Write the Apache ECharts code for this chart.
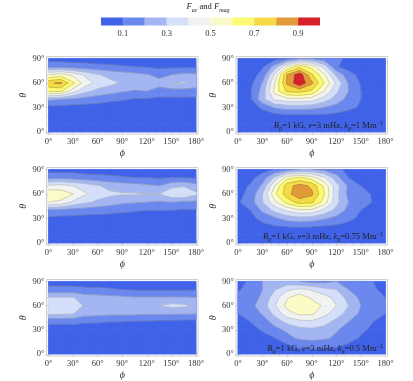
<!DOCTYPE html>
<html>
<head>
<meta charset="utf-8">
<style>
html, body { margin: 0; padding: 0; background: #fff; }
#chart { width: 413px; height: 381px; }
</style>
<script src="https://cdn.jsdelivr.net/npm/echarts@6/dist/echarts.min.js"></script>
</head>
<body>
<div id="chart"></div>
<script>
var phiVals = [0, 15, 30, 45, 60, 75, 90, 105, 120, 135, 150, 165, 180];
var thetaVals = [0, 10, 20, 30, 40, 50, 60, 70, 80, 90];
var levels = [0, 0.1, 0.2, 0.3, 0.4, 0.5, 0.6, 0.7, 0.8, 0.9];
var levelColors = ['#3f62e8', '#6a88ee', '#a3b6f2', '#d4dffa', '#f1f3f3', '#fbfbc8', '#fdf972', '#f4da44', '#e29a38', '#d4232b'];
var barTicks = [0.1, 0.3, 0.5, 0.7, 0.9];
var angleTicksX = [0, 30, 60, 90, 120, 150, 180];
var angleTicksY = [0, 30, 60, 90];
var minorTicksX = [10, 20, 40, 50, 70, 80, 100, 110, 130, 140, 160, 170];
var minorTicksY = [10, 20, 40, 50, 70, 80];

// rows go from theta = 0 up to theta = 90
var acK1 = [
    [.03, .03, .03, .03, .03, .03, .03, .03, .03, .03, .03, .03, .03],
    [.03, .03, .03, .03, .03, .03, .03, .03, .03, .03, .03, .03, .03],
    [.04, .04, .04, .04, .04, .04, .04, .04, .04, .03, .03, .03, .03],
    [.07, .07, .06, .06, .06, .05, .05, .05, .05, .04, .04, .04, .04],
    [.22, .20, .18, .16, .14, .12, .11, .09, .09, .08, .08, .08, .08],
    [.62, .62, .44, .33, .27, .24, .21, .19, .20, .15, .16, .16, .15],
    [.78, .82, .62, .45, .37, .33, .29, .28, .27, .25, .30, .31, .27],
    [.50, .55, .47, .38, .31, .27, .25, .23, .21, .16, .20, .23, .22],
    [.16, .16, .15, .14, .13, .12, .11, .10, .09, .08, .08, .08, .08],
    [.06, .06, .05, .05, .04, .04, .04, .04, .04, .04, .04, .04, .04]
];
var acK075 = [
    [.03, .03, .03, .03, .03, .03, .03, .03, .03, .03, .03, .03, .03],
    [.03, .03, .03, .03, .03, .03, .03, .03, .03, .03, .03, .03, .03],
    [.04, .04, .04, .04, .04, .04, .04, .04, .04, .03, .03, .03, .03],
    [.08, .07, .07, .06, .06, .06, .05, .05, .05, .05, .05, .04, .04],
    [.18, .17, .16, .15, .14, .13, .12, .11, .10, .10, .10, .09, .09],
    [.50, .48, .38, .32, .28, .25, .22, .21, .20, .19, .20, .18, .18],
    [.58, .56, .50, .41, .35, .32, .31, .31, .30, .30, .38, .40, .32],
    [.42, .44, .40, .36, .31, .27, .25, .24, .22, .20, .27, .29, .24],
    [.17, .17, .16, .14, .13, .12, .11, .10, .10, .09, .10, .10, .09],
    [.06, .06, .06, .05, .05, .05, .05, .05, .05, .04, .04, .04, .04]
];
var acK05 = [
    [.03, .03, .03, .03, .03, .03, .03, .03, .03, .03, .03, .03, .03],
    [.03, .03, .03, .03, .03, .03, .03, .03, .03, .03, .03, .03, .03],
    [.04, .04, .04, .04, .04, .04, .04, .04, .04, .03, .03, .03, .03],
    [.06, .06, .06, .05, .05, .05, .05, .04, .04, .04, .04, .04, .04],
    [.12, .12, .12, .11, .11, .10, .10, .09, .09, .08, .08, .07, .07],
    [.32, .32, .305, .24, .23, .22, .22, .22, .21, .21, .21, .21, .20],
    [.38, .38, .34, .29, .28, .27, .27, .27, .28, .30, .33, .32, .28],
    [.31, .31, .305, .25, .24, .23, .22, .21, .21, .21, .21, .21, .20],
    [.13, .13, .13, .12, .12, .11, .10, .09, .09, .09, .09, .09, .09],
    [.06, .06, .06, .05, .05, .05, .05, .05, .05, .05, .05, .05, .05]
];
var magK1 = [
    [.03, .03, .03, .03, .03, .03, .03, .03, .03, .03, .03, .03, .03],
    [.03, .03, .03, .03, .03, .03, .03, .03, .03, .03, .03, .03, .03],
    [.03, .04, .05, .06, .08, .08, .08, .08, .07, .06, .05, .04, .03],
    [.04, .05, .12, .21, .24, .24, .23, .20, .16, .12, .09, .05, .04],
    [.04, .08, .27, .42, .46, .47, .45, .35, .26, .16, .10, .06, .05],
    [.05, .09, .24, .54, .72, .74, .68, .50, .32, .20, .10, .07, .05],
    [.06, .07, .21, .50, .82, .97, .82, .60, .38, .19, .09, .06, .05],
    [.05, .06, .13, .42, .80, .96, .72, .52, .28, .14, .07, .05, .05],
    [.04, .05, .09, .24, .50, .66, .56, .36, .11, .06, .05, .04, .04],
    [.03, .03, .04, .06, .10, .18, .18, .14, .13, .07, .04, .03, .03]
];
var magK075 = [
    [.03, .03, .03, .03, .03, .03, .03, .03, .03, .03, .03, .03, .03],
    [.03, .03, .03, .03, .03, .03, .03, .03, .03, .03, .03, .03, .03],
    [.04, .05, .07, .09, .10, .11, .10, .09, .08, .07, .05, .04, .03],
    [.05, .07, .13, .18, .24, .26, .25, .21, .17, .12, .08, .05, .04],
    [.06, .10, .22, .33, .42, .48, .47, .37, .27, .17, .10, .07, .05],
    [.09, .15, .30, .48, .64, .74, .72, .56, .33, .20, .14, .095, .06],
    [.07, .13, .30, .58, .76, .88, .82, .61, .33, .17, .13, .09, .05],
    [.06, .11, .22, .50, .76, .84, .78, .58, .34, .18, .10, .06, .05],
    [.04, .07, .15, .32, .56, .62, .55, .42, .24, .10, .06, .05, .04],
    [.03, .04, .06, .11, .15, .20, .20, .17, .13, .07, .04, .03, .03]
];
var magK05 = [
    [.02, .02, .03, .03, .04, .05, .05, .05, .05, .04, .03, .02, .02],
    [.02, .03, .04, .05, .08, .12, .13, .12, .11, .08, .05, .03, .02],
    [.03, .05, .07, .10, .17, .22, .23, .22, .18, .14, .09, .06, .04],
    [.05, .07, .11, .17, .22, .27, .28, .26, .21, .16, .12, .08, .05],
    [.07, .10, .15, .24, .33, .37, .38, .34, .27, .20, .14, .10, .08],
    [.10, .14, .21, .33, .46, .52, .52, .43, .35, .26, .18, .13, .10],
    [.13, .17, .25, .39, .53, .60, .56, .48, .40, .30, .20, .15, .12],
    [.12, .15, .22, .36, .49, .56, .48, .44, .37, .26, .18, .12, .10],
    [.09, .13, .20, .29, .38, .42, .39, .33, .30, .20, .15, .11, .08],
    [.06, .12, .20, .24, .24, .20, .17, .17, .20, .17, .13, .10, .06]
];

var panelData = [acK1, magK1, acK075, magK075, acK05, magK05];
var panelNotes = [
    null, '{i|B}{s|0}{n|=1 kG, }{i|ν}{n|=3 mHz, }{i|k}{s|θ}{n|=1 Mm}{u|−1}',
    null, '{i|B}{s|0}{n|=1 kG, }{i|ν}{n|=3 mHz, }{i|k}{s|θ}{n|=0.75 Mm}{u|−1}',
    null, '{i|B}{s|0}{n|=1 kG, }{i|ν}{n|=3 mHz, }{i|k}{s|θ}{n|=0.5 Mm}{u|−1}'
];
var frameLeft = [46.5, 236];
var frameTop = [56.5, 167.5, 279.5];
var frameW = 151.5;
var frameH = 77.5;

var FONT = '"Liberation Serif", serif';
var TEXT_COLOR = '#333';
var FRAME_COLOR = '#cfcfcf';
var richText = {
    n: { fontFamily: FONT, fontSize: 8.6, fontWeight: 'normal', color: '#222' },
    i: { fontFamily: FONT, fontSize: 8.6, fontWeight: 'normal', color: '#222', fontStyle: 'italic' },
    s: { fontFamily: FONT, fontSize: 6, fontWeight: 'normal', color: '#222', fontStyle: 'italic', verticalAlign: 'bottom', lineHeight: 12 },
    u: { fontFamily: FONT, fontSize: 6, fontWeight: 'normal', color: '#222', verticalAlign: 'top', lineHeight: 12 }
};

// walk the cell corners, keep the part with value >= level
function clipCell(corners, level) {
    var poly = [];
    var cross = [];
    for (var i = 0; i < 4; i++) {
        var a = corners[i];
        var b = corners[(i + 1) % 4];
        if (a[2] >= level) {
            poly.push([a[0], a[1]]);
        }
        if ((a[2] >= level) != (b[2] >= level)) {
            var t = (level - a[2]) / (b[2] - a[2]);
            var p = [a[0] + (b[0] - a[0]) * t, a[1] + (b[1] - a[1]) * t];
            poly.push(p);
            cross.push(p);
        }
    }
    return { poly: poly, cross: cross };
}

function buildPieces(values) {
    var bands = [];
    var lines = [];
    for (var k = 0; k < levels.length; k++) {
        for (var r = 0; r < thetaVals.length - 1; r++) {
            for (var c = 0; c < phiVals.length - 1; c++) {
                var corners = [
                    [phiVals[c], thetaVals[r], values[r][c]],
                    [phiVals[c + 1], thetaVals[r], values[r][c + 1]],
                    [phiVals[c + 1], thetaVals[r + 1], values[r + 1][c + 1]],
                    [phiVals[c], thetaVals[r + 1], values[r + 1][c]]
                ];
                var res = clipCell(corners, levels[k]);
                if (res.poly.length > 2) {
                    bands.push({ k: k, pts: res.poly });
                }
                if (k > 0) {
                    for (var n = 0; n + 1 < res.cross.length; n += 2) {
                        lines.push({ k: k, line: true, pts: [res.cross[n], res.cross[n + 1]] });
                    }
                }
            }
        }
    }
    return bands.concat(lines);
}

function renderPiece(pieces) {
    return function (params, api) {
        var piece = pieces[params.dataIndex];
        var pts = piece.pts.map(function (p) { return api.coord(p); });
        if (piece.line) {
            return {
                type: 'polyline',
                shape: { points: pts },
                style: { fill: null, stroke: 'rgba(85,85,85,0.5)', lineWidth: 0.5 },
                silent: true
            };
        }
        var color = levelColors[piece.k];
        return {
            type: 'polygon',
            shape: { points: pts },
            style: { fill: color, stroke: color, lineWidth: 0.8 },
            silent: true
        };
    };
}

function tickAxis(pos, gridIndex, range, custom, len) {
    return {
        type: 'value', gridIndex: gridIndex, position: pos, min: range[0], max: range[1],
        axisLine: { show: false }, splitLine: { show: false }, axisLabel: { show: false },
        axisTick: { show: true, inside: true, length: len, customValues: custom, lineStyle: { color: '#bbb', width: 0.5 } }
    };
}

var grids = [];
var xAxes = [];
var yAxes = [];
var series = [];
var titles = [];
var phiRange = [-2.4, 182.4];
var thetaRange = [-2.4, 92.4];

panelData.forEach(function (values, idx) {
    var gi = grids.length;
    var left = frameLeft[idx % 2];
    var top = frameTop[Math.floor(idx / 2)];
    grids.push({
        left: left, top: top, width: frameW, height: frameH, show: true,
        backgroundColor: '#fff', borderColor: FRAME_COLOR, borderWidth: 1
    });
    var xi = xAxes.length;
    var yi = yAxes.length;
    xAxes.push({
        type: 'value', gridIndex: gi, position: 'bottom', min: phiRange[0], max: phiRange[1],
        name: 'ϕ', nameLocation: 'middle', nameGap: 14,
        nameTextStyle: { fontFamily: FONT, fontStyle: 'italic', fontSize: 10, color: TEXT_COLOR },
        axisLine: { show: false }, splitLine: { show: false },
        axisTick: { show: true, inside: true, length: 3, customValues: angleTicksX, lineStyle: { color: '#aaa', width: 0.5 } },
        axisLabel: {
            customValues: angleTicksX, margin: 3, fontFamily: FONT, fontSize: 8.5, color: TEXT_COLOR,
            formatter: function (v) { return v + '°'; }
        }
    });
    yAxes.push({
        type: 'value', gridIndex: gi, position: 'left', min: thetaRange[0], max: thetaRange[1],
        name: 'θ', nameLocation: 'middle', nameGap: 18, nameRotate: 90,
        nameTextStyle: { fontFamily: FONT, fontStyle: 'italic', fontSize: 10, color: TEXT_COLOR },
        axisLine: { show: false }, splitLine: { show: false },
        axisTick: { show: true, inside: true, length: 3, customValues: angleTicksY, lineStyle: { color: '#aaa', width: 0.5 } },
        axisLabel: {
            customValues: angleTicksY, margin: 2, fontFamily: FONT, fontSize: 8.5, color: TEXT_COLOR,
            formatter: function (v) { return v + '°'; }
        }
    });
    xAxes.push(tickAxis('top', gi, phiRange, angleTicksX, 3));
    xAxes.push(tickAxis('bottom', gi, phiRange, minorTicksX, 1.5));
    xAxes.push(tickAxis('top', gi, phiRange, minorTicksX, 1.5));
    yAxes.push(tickAxis('right', gi, thetaRange, angleTicksY, 3));
    yAxes.push(tickAxis('left', gi, thetaRange, minorTicksY, 1.5));
    yAxes.push(tickAxis('right', gi, thetaRange, minorTicksY, 1.5));

    var pieces = buildPieces(values);
    series.push({
        type: 'custom', xAxisIndex: xi, yAxisIndex: yi, silent: true, animation: false,
        clip: true, renderItem: renderPiece(pieces),
        data: pieces.map(function (p) { return [p.pts[0][0], p.pts[0][1]]; })
    });
    if (panelNotes[idx]) {
        titles.push({
            text: panelNotes[idx], left: left + frameW - 4.5, top: top + frameH - 14, textAlign: 'right',
            padding: 0, textStyle: { rich: richText, lineHeight: 12 }
        });
    }
});

// colour bar on top
var barGrid = grids.length;
grids.push({ left: 101, top: 17.5, width: 219, height: 8 });
xAxes.push({
    type: 'value', gridIndex: barGrid, position: 'bottom', min: 0, max: 1,
    axisLine: { show: false }, splitLine: { show: false },
    axisTick: { show: true, length: 1.5, inside: true, customValues: barTicks, lineStyle: { color: '#999', width: 0.5 } },
    axisLabel: {
        customValues: barTicks, margin: 4, fontFamily: FONT, fontSize: 8.5, color: TEXT_COLOR,
        formatter: function (v) { return v.toFixed(1); }
    }
});
yAxes.push({ type: 'value', gridIndex: barGrid, min: 0, max: 1, show: false });
series.push({
    type: 'custom', xAxisIndex: xAxes.length - 1, yAxisIndex: yAxes.length - 1, silent: true, animation: false,
    z: 1,
    renderItem: function (params, api) {
        var start = api.coord([api.value(0), 1]);
        var end = api.coord([api.value(1), 0]);
        return {
            type: 'rect',
            shape: { x: start[0], y: start[1], width: end[0] - start[0], height: end[1] - start[1] },
            style: { fill: levelColors[params.dataIndex] }
        };
    },
    data: levels.map(function (lo) { return [lo, lo + 0.1]; })
});
titles.push({
    text: '{i|F}{s|ac}{n| and }{i|F}{s|mag}', left: 208, top: 1, textAlign: 'center',
    padding: 0, textStyle: { rich: richText, lineHeight: 12 }
});

var myChart = echarts.init(document.getElementById('chart'), null, { renderer: 'canvas' });
myChart.setOption({
    animation: false,
    backgroundColor: '#fff',
    title: titles,
    grid: grids,
    xAxis: xAxes,
    yAxis: yAxes,
    series: series
});
</script>
</body>
</html>
